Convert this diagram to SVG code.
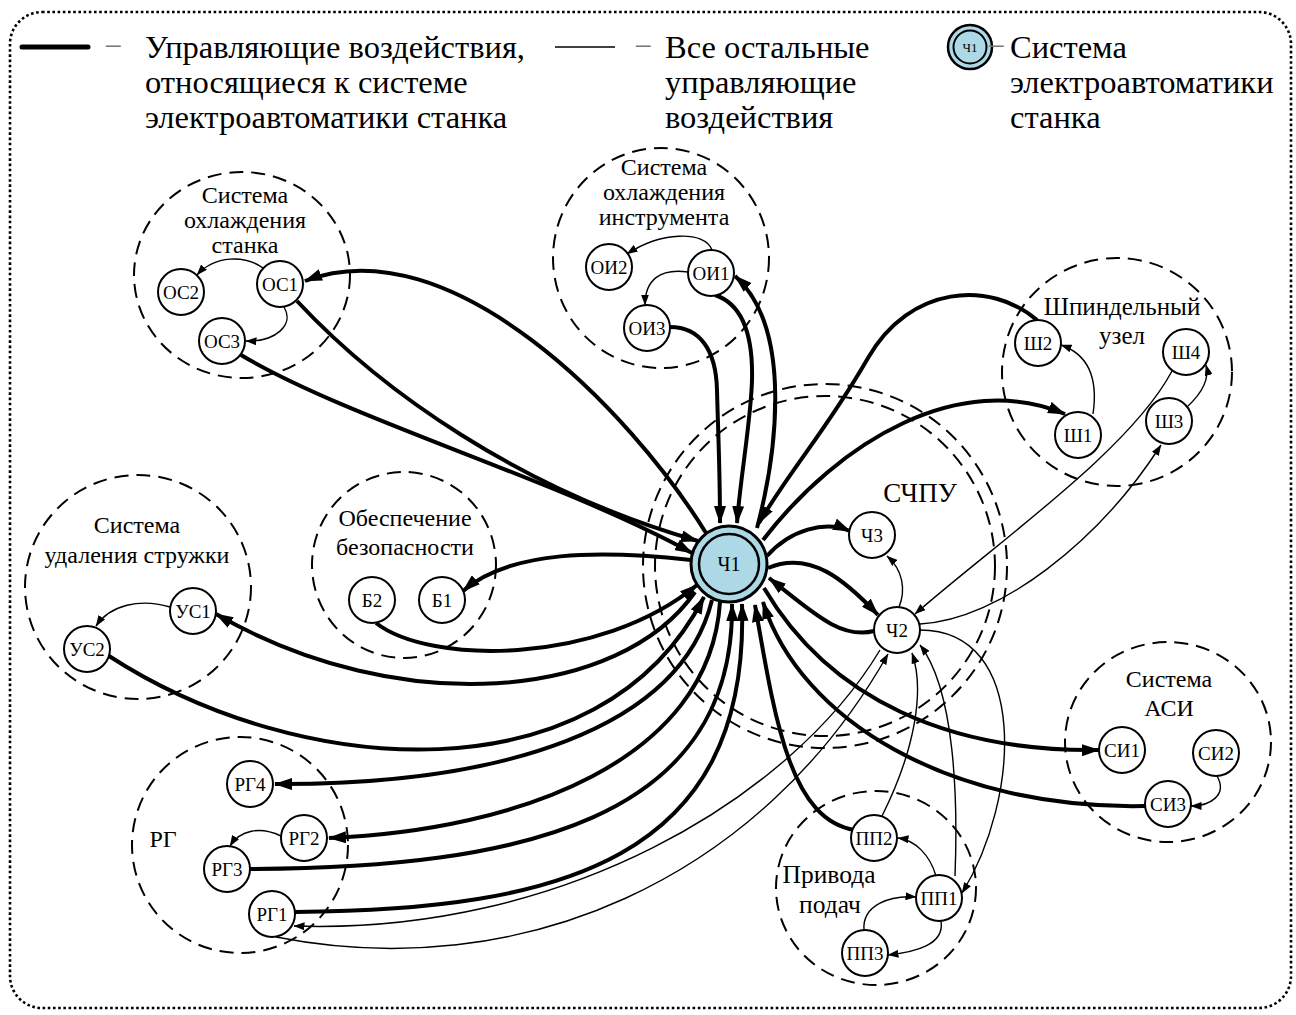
<svg xmlns="http://www.w3.org/2000/svg" width="1296" height="1015" viewBox="0 0 1296 1015">
<defs>
<style>
text{font-family:"Liberation Serif","DejaVu Serif",serif;fill:#000}
.grp{fill:none;stroke:#000;stroke-width:2;stroke-dasharray:14 8}
.nd{fill:#fff;stroke:#000;stroke-width:2}
.nl{font-size:19px;text-anchor:middle}
.gl{font-size:24px;text-anchor:middle}
.lg{font-size:32.5px}
.dash{font-size:32px;fill:#777}
.thk{fill:none;stroke:#000;stroke-width:4}
.thn{fill:none;stroke:#000;stroke-width:1.4}
.ah{marker-end:url(#ak)}
.at{marker-end:url(#at)}
</style>
<marker id="ak" markerUnits="userSpaceOnUse" viewBox="0 0 18 12" refX="17" refY="6" markerWidth="18" markerHeight="12" orient="auto"><path d="M0,0 L18,6 L0,12 z" fill="#000"/></marker>
<marker id="at" markerUnits="userSpaceOnUse" viewBox="0 0 11 8" refX="10.5" refY="4" markerWidth="11" markerHeight="8" orient="auto"><path d="M0,0 L11,4 L0,8 z" fill="#000"/></marker>
</defs>
<rect width="1296" height="1015" fill="#fff"/>
<rect x="10" y="12" width="1281" height="996" rx="32" fill="none" stroke="#000" stroke-width="2.6" stroke-dasharray="2.6 2.6"/>

<g id="legend">
<line x1="22" y1="47" x2="88" y2="47" stroke="#000" stroke-width="5" stroke-linecap="round"/>
<text x="104" y="57" class="dash" style="fill:#777">−</text>
<text class="lg" x="145" y="58">Управляющие воздействия,</text>
<text class="lg" x="145" y="93">относящиеся к системе</text>
<text class="lg" x="145" y="128">электроавтоматики станка</text>
<line x1="555" y1="47" x2="615" y2="47" stroke="#000" stroke-width="1.6"/>
<text x="634" y="57" class="dash" style="fill:#777">−</text>
<text class="lg" x="665" y="58">Все остальные</text>
<text class="lg" x="665" y="93">управляющие</text>
<text class="lg" x="665" y="128">воздействия</text>
<circle cx="970" cy="47" r="22" fill="#add8e6" stroke="#000" stroke-width="2.5"/>
<circle cx="970" cy="47" r="16.5" fill="none" stroke="#000" stroke-width="2"/>
<text x="970" y="52" style="font-size:13px;text-anchor:middle">Ч1</text>
<text x="987" y="57" class="dash" style="fill:#777">−</text>
<text class="lg" x="1010" y="58">Система</text>
<text class="lg" x="1010" y="93">электроавтоматики</text>
<text class="lg" x="1010" y="128">станка</text>
</g>

<g id="groups">
<g id="g-os"><ellipse class="grp" cx="242" cy="275" rx="108" ry="103"/>
<text class="gl" x="245" y="203">Система</text><text class="gl" x="245" y="228">охлаждения</text><text class="gl" x="245" y="253">станка</text></g>
<g id="g-oi"><ellipse class="grp" cx="661" cy="258" rx="108" ry="110"/>
<text class="gl" x="664" y="175">Система</text><text class="gl" x="664" y="200">охлаждения</text><text class="gl" x="664" y="225">инструмента</text></g>
<g id="g-sh"><ellipse class="grp" cx="1117" cy="372" rx="115" ry="114"/>
<text class="gl" x="1122" y="315" style="font-size:25px">Шпиндельный</text><text class="gl" x="1122" y="344" style="font-size:25px">узел</text></g>
<g id="g-chpu"><circle class="grp" cx="825" cy="566" r="182"/><circle class="grp" cx="825" cy="566" r="170"/>
<text x="920" y="502" style="font-size:27px;text-anchor:middle">СЧПУ</text></g>
<g id="g-b"><ellipse class="grp" cx="404" cy="565" rx="92" ry="93"/>
<text class="gl" x="405" y="526">Обеспечение</text><text class="gl" x="405" y="555">безопасности</text></g>
<g id="g-us"><ellipse class="grp" cx="138" cy="587" rx="113" ry="112"/>
<text class="gl" x="137" y="533">Система</text><text class="gl" x="137" y="563">удаления стружки</text></g>
<g id="g-rg"><ellipse class="grp" cx="240" cy="845" rx="108" ry="108"/>
<text class="gl" x="163" y="847">РГ</text></g>
<g id="g-pp"><ellipse class="grp" cx="876" cy="888" rx="100" ry="97"/>
<text class="gl" x="829" y="883" style="font-size:25.5px">Привода</text><text class="gl" x="830" y="913" style="font-size:25.5px">подач</text></g>
<g id="g-si"><ellipse class="grp" cx="1168" cy="742" rx="103" ry="100"/>
<text class="gl" x="1169" y="687">Система</text><text class="gl" x="1169" y="716">АСИ</text></g>
</g>

<g id="connectors">
<path class="thk ah" d="M706 533 C630 410,450 225,305 281"/>
<path class="thk ah" d="M297 301 C380 390,520 490,698 541"/>
<path class="thk ah" d="M241 355 C350 420,560 480,692 553"/>
<path class="thk ah" d="M691 560 C600 550,510 550,463 591"/>
<path class="thk ah" d="M376 623 C430 665,600 665,697 585"/>
<path class="thk ah" d="M695 592 C620 700,400 720,216 614"/>
<path class="thk ah" d="M109 656 C300 780,600 800,704 597"/>
<path class="thk ah" d="M712 600 C680 730,500 785,275 784"/>
<path class="thk ah" d="M720 602 C710 760,520 830,329 838"/>
<path class="thk ah" d="M250 869 C520 868,735 820,732 604"/>
<path class="thk ah" d="M295 912 C560 910,750 860,742 604"/>
<path class="thk ah" d="M855 830 C790 820,775 720,755 605"/>
<path class="thk ah" d="M1145 806 C950 810,800 720,763 602"/>
<path class="thk ah" d="M764 588 C830 700,950 752,1099 750"/>
<path class="thk ah" d="M670 327 C700 327,716 350,717 390 S720 470,720 523"/>
<path class="thk ah" d="M715 295 C745 305,753 340,752 380 S740 480,737 523"/>
<path class="thk ah" d="M757 528 C775 460,795 330,735 276"/>
<path class="thk ah" d="M1037 320 C990 280,910 285,868 358 S790 470,759 523"/>
<path class="thk ah" d="M763 540 C840 440,960 370,1065 414"/>
<path class="thk ah" d="M767 556 C790 530,825 520,850 531"/>
<path class="thk ah" d="M768 568 C810 550,845 580,878 615"/>
<path class="thk ah" d="M874 631 C840 640,810 610,769 578"/>
<path class="thn at" d="M263 268 C245 255,215 255,197 275"/>
<path class="thn at" d="M284 307 C295 325,275 342,246 341"/>
<path class="thn at" d="M712 250 C705 230,660 232,627 254"/>
<path class="thn at" d="M688 272 C660 268,645 280,645 305"/>
<path class="thn at" d="M1093 414 C1098 380,1090 355,1061 345"/>
<path class="thn at" d="M1187 407 C1200 395,1210 380,1206 365"/>
<path class="thn at" d="M1172 371 C1130 450,1000 540,915 614"/>
<path class="thn at" d="M920 624 C1000 620,1100 540,1161 445"/>
<path class="thn at" d="M899 607 C906 590,903 570,887 556"/>
<path class="thn at" d="M882 816 C915 750,925 690,912 653"/>
<path class="thn at" d="M955 876 C958 800,955 690,920 645"/>
<path class="thn at" d="M920 630 C1030 630,1020 800,962 893"/>
<path class="thn at" d="M936 876 C930 855,915 840,898 838"/>
<path class="thn at" d="M864 930 C862 905,890 895,916 897"/>
<path class="thn at" d="M941 921 C945 945,915 952,888 955"/>
<path class="thn at" d="M880 650 C790 800,560 935,294 926"/>
<path class="thn at" d="M276 937 C520 985,760 880,888 654"/>
<path class="thn at" d="M170 607 C140 598,110 605,96 626"/>
<path class="thn at" d="M281 836 C260 826,240 830,230 846"/>
<path class="thn at" d="M1217 776 C1228 795,1210 806,1191 806"/>
</g>

<g id="nodes">
<g id="n-ch1"><circle cx="729" cy="564" r="38" fill="#add8e6" stroke="#000" stroke-width="3"/><circle cx="729" cy="564" r="30" fill="none" stroke="#000" stroke-width="2.5"/><text x="729" y="571" style="font-size:20px;text-anchor:middle">Ч1</text></g>
<g id="n-ch2"><circle class="nd" cx="897" cy="630" r="23"/><text class="nl" x="897" y="637">Ч2</text></g>
<g id="n-ch3"><circle class="nd" cx="872" cy="535" r="23"/><text class="nl" x="872" y="542">Ч3</text></g>
<g id="n-os1"><circle class="nd" cx="280" cy="284" r="23"/><text class="nl" x="280" y="291">ОС1</text></g>
<g id="n-os2"><circle class="nd" cx="181" cy="292" r="23"/><text class="nl" x="181" y="299">ОС2</text></g>
<g id="n-os3"><circle class="nd" cx="222" cy="341" r="23"/><text class="nl" x="222" y="348">ОС3</text></g>
<g id="n-oi1"><circle class="nd" cx="711" cy="273" r="23"/><text class="nl" x="711" y="280">ОИ1</text></g>
<g id="n-oi2"><circle class="nd" cx="609" cy="267" r="23"/><text class="nl" x="609" y="274">ОИ2</text></g>
<g id="n-oi3"><circle class="nd" cx="647" cy="328" r="23"/><text class="nl" x="647" y="335">ОИ3</text></g>
<g id="n-sh2"><circle class="nd" cx="1038" cy="343" r="23"/><text class="nl" x="1038" y="350">Ш2</text></g>
<g id="n-sh4"><circle class="nd" cx="1186" cy="352" r="23"/><text class="nl" x="1186" y="359">Ш4</text></g>
<g id="n-sh1"><circle class="nd" cx="1078" cy="435" r="23"/><text class="nl" x="1078" y="442">Ш1</text></g>
<g id="n-sh3"><circle class="nd" cx="1169" cy="421" r="23"/><text class="nl" x="1169" y="428">Ш3</text></g>
<g id="n-b2"><circle class="nd" cx="372" cy="600" r="23"/><text class="nl" x="372" y="607">Б2</text></g>
<g id="n-b1"><circle class="nd" cx="442" cy="600" r="23"/><text class="nl" x="442" y="607">Б1</text></g>
<g id="n-us1"><circle class="nd" cx="193" cy="611" r="23"/><text class="nl" x="193" y="618">УС1</text></g>
<g id="n-us2"><circle class="nd" cx="87" cy="649" r="23"/><text class="nl" x="87" y="656">УС2</text></g>
<g id="n-rg4"><circle class="nd" cx="250" cy="784" r="23"/><text class="nl" x="250" y="791">РГ4</text></g>
<g id="n-rg2"><circle class="nd" cx="304" cy="838" r="23"/><text class="nl" x="304" y="845">РГ2</text></g>
<g id="n-rg3"><circle class="nd" cx="227" cy="869" r="23"/><text class="nl" x="227" y="876">РГ3</text></g>
<g id="n-rg1"><circle class="nd" cx="272" cy="914" r="23"/><text class="nl" x="272" y="921">РГ1</text></g>
<g id="n-pp2"><circle class="nd" cx="874" cy="838" r="23"/><text class="nl" x="874" y="845">ПП2</text></g>
<g id="n-pp1"><circle class="nd" cx="939" cy="898" r="23"/><text class="nl" x="939" y="905">ПП1</text></g>
<g id="n-pp3"><circle class="nd" cx="865" cy="953" r="23"/><text class="nl" x="865" y="960">ПП3</text></g>
<g id="n-si1"><circle class="nd" cx="1122" cy="750" r="23"/><text class="nl" x="1122" y="757">СИ1</text></g>
<g id="n-si2"><circle class="nd" cx="1216" cy="753" r="23"/><text class="nl" x="1216" y="760">СИ2</text></g>
<g id="n-si3"><circle class="nd" cx="1168" cy="804" r="23"/><text class="nl" x="1168" y="811">СИ3</text></g>
</g>
</svg>
